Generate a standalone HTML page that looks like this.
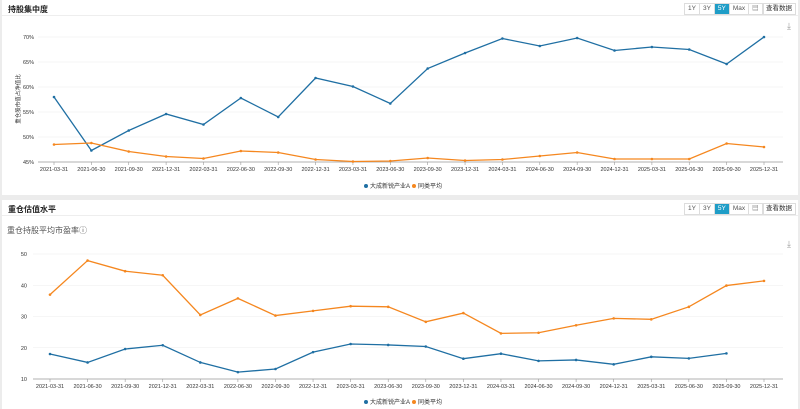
<!DOCTYPE html>
<html><head><meta charset="utf-8"><style>
body{margin:0;width:800px;height:409px;background:#ececec;font-family:"Liberation Sans","Noto Sans CJK SC",sans-serif;overflow:hidden;position:relative}
.panel{position:absolute;left:2px;width:796px;background:#fff}
.title{position:absolute;left:6px;top:4px;font-size:8px;font-weight:bold;color:#222}
.hline{position:absolute;left:0;right:0;top:15px;height:1px;background:#eee}
.btns{position:absolute;left:682px;top:3px;display:flex;border:1px solid #ddd;height:10px;white-space:nowrap}
.btns span{font-size:6.5px;line-height:10px;color:#555;padding:0 3px;border-right:1px solid #ddd}
.btns span.on{background:#1f9dc7;color:#fff}
.view{position:absolute;left:760px;top:3px;font-size:6.5px;line-height:10px;color:#333;border:1px solid #ddd;padding:0 3px;height:10px;white-space:nowrap}
svg{position:absolute;left:0;top:0}
</style></head><body>
<div class="panel" style="top:0;height:195px">
 <div class="title">持股集中度</div>
 <div class="hline"></div>
 <div class="btns"><span>1Y</span><span>3Y</span><span class="on">5Y</span><span>Max</span><span>▤</span></div>
 <div class="view">查看数据</div>
</div>
<div class="panel" style="top:200px;height:209px">
 <div class="title">重仓估值水平</div>
 <div class="hline"></div>
 <div class="btns"><span>1Y</span><span>3Y</span><span class="on">5Y</span><span>Max</span><span>▤</span></div>
 <div class="view">查看数据</div>
 <div style="position:absolute;left:5px;top:25px;font-size:8px;color:#555">重仓持股平均市盈率ⓘ</div>
</div>
<svg id="c" width="800" height="409"></svg>
<script>
const categories=["2021-03-31","2021-06-30","2021-09-30","2021-12-31","2022-03-31","2022-06-30","2022-09-30","2022-12-31","2023-03-31","2023-06-30","2023-09-30","2023-12-31","2024-03-31","2024-06-30","2024-09-30","2024-12-31","2025-03-31","2025-06-30","2025-09-30","2025-12-31"];
const concFund=[58.0,47.3,51.3,54.6,52.5,57.8,54.0,61.8,60.1,56.7,63.7,66.8,69.7,68.2,69.8,67.3,68.0,67.5,64.6,70.0];
const concPeer=[48.5,48.8,47.1,46.1,45.7,47.2,46.9,45.5,45.1,45.2,45.8,45.3,45.5,46.2,46.9,45.6,45.6,45.6,48.7,48.0];
const concTicks=[45,50,55,60,65,70];
const peFund=[18.0,15.3,19.6,20.8,15.3,12.2,13.2,18.6,21.2,20.9,20.4,16.5,18.1,15.8,16.1,14.7,17.1,16.6,18.2,null];
const pePeer=[37.0,47.9,44.5,43.2,30.5,35.8,30.3,31.8,33.3,33.1,28.3,31.1,24.6,24.8,27.2,29.4,29.1,33.1,39.9,41.4];
const peTicks=[10,20,30,40,50];
const seriesNames=["大成新锐产业A","同类平均"];
const svg=document.getElementById('c');const NS='http://www.w3.org/2000/svg';
function mk(t,a,p){const e=document.createElementNS(NS,t);for(const k in a)e.setAttribute(k,a[k]);(p||svg).appendChild(e);return e;}
function chart(o){
 const x=i=>o.x0+i*(o.x1-o.x0)/(categories.length-1);
 const y=v=>o.yb-(v-o.vmin)*(o.yb-o.yt)/(o.vmax-o.vmin);
 o.ticks.forEach(t=>{const l=mk('line',{x1:o.gl,x2:783,y1:y(t),y2:y(t),stroke:t===o.vmin?'#999':'#eee','stroke-width':t===o.vmin?0.8:0.6});
  
  const tx=mk('text',{x:o.lx,y:y(t)+2,'font-size':5.5,fill:'#333','text-anchor':'end'});tx.textContent=t+o.suf;
  });
 categories.forEach((c,i)=>{const tx=mk('text',{x:x(i),y:o.yb+9,'font-size':5.5,fill:'#333','text-anchor':'middle'});tx.textContent=c;
  
  mk('line',{x1:x(i),x2:x(i),y1:o.yb,y2:o.yb+3,stroke:'#999','stroke-width':0.6});});
 [[o.a,'#1f6fa3','fund'],[o.b,'#f5871f','peer']].forEach(([d,col,nm])=>{
  const pts=d.map((v,i)=>v==null?null:x(i)+','+y(v)).filter(p=>p);
  const pl=mk('polyline',{points:pts.join(' '),fill:'none',stroke:col,'stroke-width':1.3});
  
  d.forEach((v,i)=>{if(v==null)return;const c=mk('circle',{cx:x(i),cy:y(v),r:1.3,fill:col});
   });});
 [[seriesNames[0],'#1f6fa3',o.lg],[seriesNames[1],'#f5871f',o.lg+48]].forEach(([n,col,lx])=>{
  const c=mk('circle',{cx:lx,cy:o.ly,r:2,fill:col});
  const t=mk('text',{x:lx+4,y:o.ly+2.2,'font-size':6,fill:'#333'});t.textContent=n;
  });
 const d=mk('text',{x:789,y:o.dl,'font-size':9,fill:'#999','text-anchor':'middle'});d.textContent='⤓';
 
}
chart({x0:54,x1:764,yt:37,yb:162,vmin:45,vmax:70,ticks:concTicks,suf:'%',gl:38,lx:34,a:concFund,b:concPeer,lg:366,ly:186,dl:29});
chart({x0:50,x1:764,yt:254,yb:379,vmin:10,vmax:50,ticks:peTicks,suf:'',gl:33,lx:27,a:peFund,b:pePeer,lg:366,ly:402,dl:247});
const yt=mk('text',{x:0,y:0,'font-size':5.5,fill:'#333','text-anchor':'middle',transform:'translate(20,99) rotate(-90)'});yt.textContent='重仓股市值占净值比';

</script>
</body></html>
